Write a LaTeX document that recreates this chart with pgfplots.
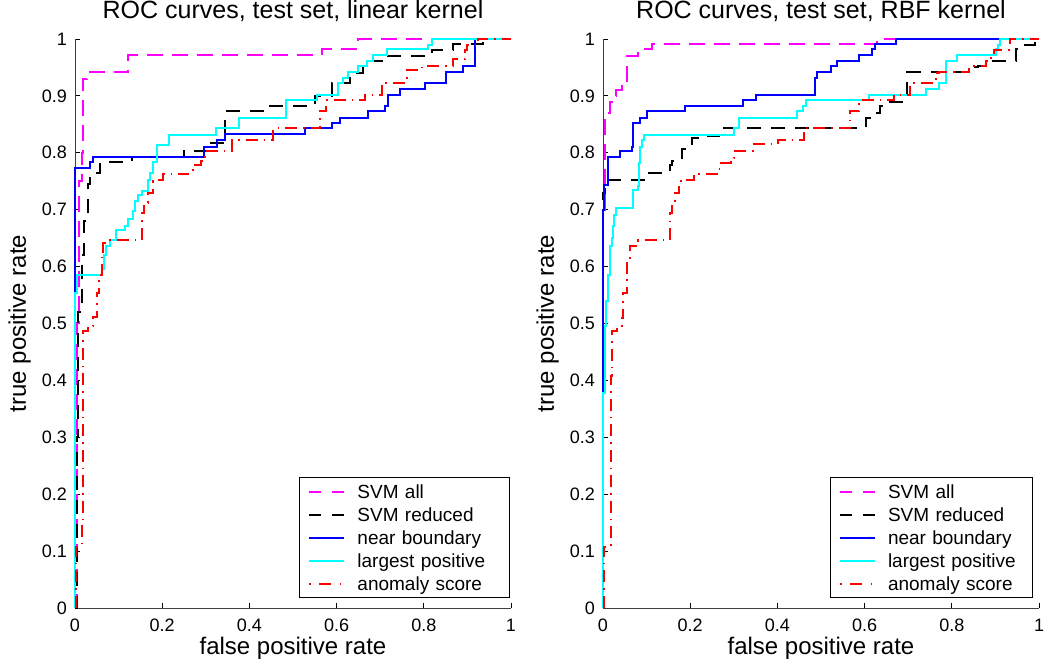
\documentclass[border=0pt]{standalone}
\usepackage{fontspec}
\setmainfont{Liberation Sans}
\usepackage{pgfplots}
\pgfplotsset{compat=1.18}
\definecolor{mmag}{rgb}{1,0,1}
\definecolor{ccyan}{rgb}{0,1,1}
\definecolor{bblue}{rgb}{0,0,1}
\definecolor{rred}{rgb}{1,0,0}
\pgfplotsset{
  rocstyle/.style={
    scale only axis, width=436pt, height=569pt,
    xmin=0, xmax=1, ymin=0, ymax=1,
    clip=false,
    axis x line*=bottom, axis y line*=left,
    tick align=inside, major tick length=5pt,
    xtick={0,0.2,0.4,0.6,0.8,1}, xticklabels={0,0.2,0.4,0.6,0.8,1},
    ytick={0,0.1,0.2,0.3,0.4,0.5,0.6,0.7,0.8,0.9,1},
    yticklabels={0,0.1,0.2,0.3,0.4,0.5,0.6,0.7,0.8,0.9,1},
    /pgf/number format/assume math mode=true,
    tick label style={font=\fontsize{18}{20}\selectfont},
    xticklabel style={anchor=base, yshift=-24pt},
    yticklabel style={anchor=east, inner xsep=0pt, xshift=-8pt},
    axis line style={line width=0.8pt, black!75},
    major tick style={line width=0.8pt, black},
    title style={font=\fontsize{25}{28}\selectfont, at={(axis description cs:0.5,1)}, anchor=base, yshift=14pt},
    xlabel style={font=\fontsize{24}{26}\selectfont, at={(axis description cs:0.5,0)}, anchor=base, yshift=-47pt},
    ylabel style={font=\fontsize{24}{26}\selectfont, at={(axis description cs:-0.1124,0.5)}, anchor=base},
    xlabel={false positive rate}, ylabel={true positive rate},
    legend cell align=left,
    legend image code/.code={\draw[#1, line width=2pt] (0pt,0pt) -- (35pt,0pt);},
    legend style={anchor=south west, font=\fontsize{19}{22}\selectfont,
      draw=black, line width=0.9pt, inner xsep=9pt, inner ysep=7pt,
      column sep=12pt, row sep=9pt,
      nodes={inner xsep=0pt, inner ysep=0pt, text height=14pt, text depth=0pt}},
  },
  svmall/.style={const plot, mmag, line width=2pt, dash pattern=on 16pt off 9pt,
    legend image post style={dash pattern=on 12pt off 11pt}},
  svmred/.style={const plot, black, line width=2pt, dash pattern=on 14pt off 10pt,
    legend image post style={dash pattern=on 12pt off 11pt}},
  nearb/.style={const plot, bblue, line width=2pt},
  largp/.style={const plot, ccyan, line width=2pt},
  anom/.style={const plot, rred, line width=2pt, dash pattern=on 12pt off 6pt on 1.5pt off 6pt,
    legend image post style={dash pattern=on 1.5pt off 8.5pt on 12pt off 8.5pt, dash phase=0pt}},
}
\begin{document}
\begin{tikzpicture}
\path[use as bounding box] (-75pt,-58pt) rectangle (970pt,608pt);
\begin{axis}[rocstyle, title={ROC curves, test set, linear kernel},
  legend style={at={(axis description cs:0.5138,0.0176)}, nodes={text width=143pt}}]
\addplot[svmall] coordinates {(0,0) (0.004,0.50) (0.010,0.75) (0.016,0.80) (0.018,0.93) (0.027,0.942) (0.122,0.972) (0.566,0.982) (0.65,1.0) (1,1)};
\addlegendentry{SVM all}
\addplot[svmred] coordinates {(0,0) (0.005,0.30) (0.008,0.52) (0.015,0.62) (0.02,0.68) (0.03,0.745) (0.035,0.765) (0.057,0.783) (0.13,0.793) (0.25,0.803) (0.313,0.818) (0.344,0.873) (0.436,0.882) (0.55,0.899) (0.589,0.923) (0.63,0.94) (0.66,0.961) (0.703,0.97) (0.818,0.981) (0.867,0.992) (0.936,1.0) (1,1)};
\addlegendentry{SVM reduced}
\addplot[nearb] coordinates {(0,0) (0,0.773) (0.034,0.783) (0.042,0.793) (0.296,0.811) (0.325,0.823) (0.344,0.833) (0.528,0.843) (0.589,0.853) (0.608,0.862) (0.673,0.873) (0.711,0.882) (0.718,0.902) (0.745,0.912) (0.803,0.923) (0.852,0.942) (0.891,0.952) (0.917,1.0) (1,1)};
\addlegendentry{near boundary}
\addplot[largp] coordinates {(0,0) (0,0.554) (0.004,0.586) (0.061,0.595) (0.066,0.62) (0.070,0.636) (0.08,0.646) (0.094,0.665) (0.115,0.671) (0.122,0.684) (0.133,0.697) (0.137,0.715) (0.145,0.725) (0.153,0.733) (0.168,0.753) (0.172,0.765) (0.179,0.783) (0.187,0.813) (0.216,0.832) (0.323,0.843) (0.376,0.862) (0.484,0.892) (0.556,0.902) (0.603,0.923) (0.615,0.932) (0.627,0.942) (0.649,0.952) (0.669,0.961) (0.684,0.971) (0.716,0.982) (0.81,0.99) (0.818,1.0) (1,1)};
\addlegendentry{largest positive}
\addplot[anom] coordinates {(0.003,0) (0.003,0.108) (0.015,0.15) (0.018,0.486) (0.030,0.495) (0.042,0.512) (0.051,0.553) (0.056,0.586) (0.061,0.618) (0.065,0.642) (0.08,0.646) (0.153,0.694) (0.158,0.712) (0.168,0.729) (0.18,0.75) (0.19,0.753) (0.201,0.762) (0.26,0.77) (0.27,0.779) (0.29,0.785) (0.298,0.803) (0.36,0.823) (0.455,0.843) (0.562,0.873) (0.575,0.892) (0.665,0.902) (0.703,0.923) (0.761,0.945) (0.795,0.952) (0.867,0.964) (0.894,0.98) (0.90,0.99) (0.925,1.0) (1,1)};
\addlegendentry{anomaly score}
\end{axis}
\begin{axis}[rocstyle, at={(528pt,0pt)}, title={ROC curves, test set, RBF kernel},
  legend style={at={(axis description cs:0.5196,0.0176)}, nodes={text width=135pt}}]
\addplot[svmall] coordinates {(0,0) (0,0.70) (0.004,0.86) (0.010,0.87) (0.016,0.89) (0.023,0.90) (0.030,0.91) (0.043,0.917) (0.05,0.923) (0.054,0.97) (0.081,0.975) (0.085,0.983) (0.112,0.992) (0.628,1.0) (1,1)};
\addlegendentry{SVM all}
\addplot[svmred] coordinates {(0,0) (0,0.73) (0.004,0.741) (0.008,0.753) (0.097,0.765) (0.154,0.779) (0.158,0.785) (0.181,0.806) (0.193,0.811) (0.204,0.826) (0.224,0.829) (0.266,0.841) (0.274,0.843) (0.603,0.861) (0.612,0.87) (0.636,0.882) (0.645,0.89) (0.698,0.942) (0.843,0.95) (0.86,0.952) (0.886,0.961) (0.948,0.982) (0.955,0.99) (0.99,1.0) (1,1)};
\addlegendentry{SVM reduced}
\addplot[nearb] coordinates {(0,0) (0,0.70) (0.003,0.744) (0.012,0.793) (0.039,0.803) (0.066,0.811) (0.069,0.853) (0.085,0.862) (0.1,0.873) (0.189,0.882) (0.32,0.892) (0.351,0.902) (0.486,0.932) (0.49,0.942) (0.524,0.952) (0.536,0.961) (0.586,0.971) (0.617,0.982) (0.624,0.992) (0.671,1.0) (1,1)};
\addlegendentry{near boundary}
\addplot[largp] coordinates {(0,0) (0,0.378) (0.004,0.495) (0.008,0.54) (0.012,0.586) (0.015,0.61) (0.017,0.636) (0.020,0.65) (0.023,0.671) (0.026,0.69) (0.029,0.703) (0.069,0.735) (0.081,0.741) (0.083,0.782) (0.085,0.811) (0.09,0.823) (0.095,0.832) (0.30,0.843) (0.312,0.862) (0.446,0.873) (0.459,0.882) (0.466,0.892) (0.609,0.902) (0.74,0.912) (0.771,0.923) (0.786,0.961) (0.813,0.971) (0.902,0.982) (0.906,0.99) (0.91,1.0) (1,1)};
\addlegendentry{largest positive}
\addplot[anom] coordinates {(0.003,0) (0.003,0.108) (0.018,0.15) (0.019,0.407) (0.021,0.486) (0.031,0.495) (0.043,0.51) (0.046,0.553) (0.054,0.583) (0.056,0.607) (0.062,0.636) (0.081,0.646) (0.154,0.694) (0.158,0.712) (0.165,0.729) (0.174,0.75) (0.185,0.753) (0.208,0.763) (0.262,0.772) (0.27,0.782) (0.293,0.79) (0.30,0.803) (0.343,0.815) (0.401,0.823) (0.46,0.843) (0.566,0.873) (0.586,0.892) (0.667,0.902) (0.705,0.923) (0.763,0.94) (0.771,0.942) (0.84,0.952) (0.878,0.961) (0.89,0.97) (0.897,0.98) (0.933,1.0) (1,1)};
\addlegendentry{anomaly score}
\end{axis}
\end{tikzpicture}
\end{document}
